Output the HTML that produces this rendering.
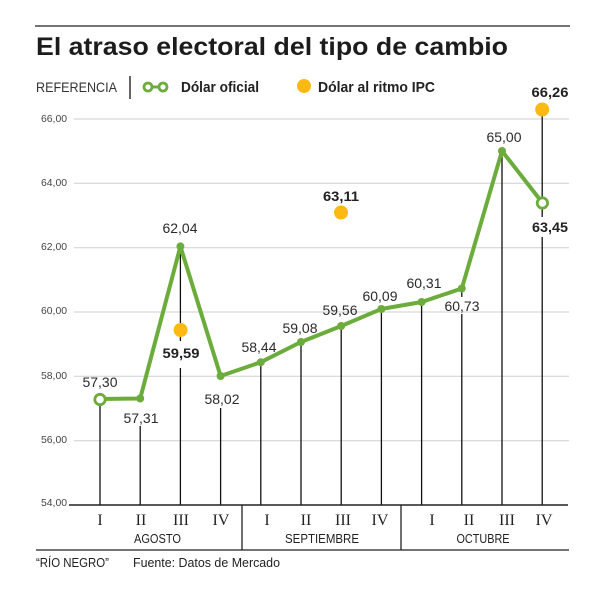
<!DOCTYPE html>
<html><head><meta charset="utf-8"><style>
html,body{margin:0;padding:0;background:#fff;}
svg{display:block;}
text{font-family:"Liberation Sans",sans-serif;}
text.serif{font-family:"Liberation Serif",serif;}
</style></head><body>
<svg width="608" height="593" viewBox="0 0 608 593" xmlns="http://www.w3.org/2000/svg">
<rect width="608" height="593" fill="#fff"/>
<line x1="35" y1="26" x2="570" y2="26" stroke="#222" stroke-width="1.3"/>
<text x="36" y="55" font-size="25" font-weight="bold" fill="#1c1c1c" textLength="472" lengthAdjust="spacingAndGlyphs">El atraso electoral del tipo de cambio</text>
<!-- legend -->
<text x="36" y="92" font-size="14" fill="#333" textLength="81" lengthAdjust="spacingAndGlyphs">REFERENCIA</text>
<line x1="130" y1="76" x2="130" y2="99" stroke="#222" stroke-width="1.4"/>
<line x1="150" y1="87" x2="161" y2="87" stroke="#6cac3c" stroke-width="3"/>
<circle cx="148" cy="87" r="4" fill="#fff" stroke="#6cac3c" stroke-width="2.8"/>
<circle cx="163" cy="87" r="4" fill="#fff" stroke="#6cac3c" stroke-width="2.8"/>
<text x="181" y="92" font-size="15" font-weight="bold" fill="#222" textLength="78" lengthAdjust="spacingAndGlyphs">Dólar oficial</text>
<circle cx="304" cy="86" r="7" fill="#fdb913"/>
<text x="318" y="92" font-size="15" font-weight="bold" fill="#222" textLength="117" lengthAdjust="spacingAndGlyphs">Dólar al ritmo IPC</text>
<!-- gridlines -->
<g stroke="#cfcfcf" stroke-width="1">
<line x1="74" y1="119" x2="569" y2="119"/>
<line x1="74" y1="183.3" x2="569" y2="183.3"/>
<line x1="74" y1="247.7" x2="569" y2="247.7"/>
<line x1="74" y1="312" x2="569" y2="312"/>
<line x1="74" y1="376.3" x2="569" y2="376.3"/>
<line x1="74" y1="440.7" x2="569" y2="440.7"/>
</g>
<g font-size="10.5" fill="#444" text-anchor="end">
<text x="67" y="122" textLength="26" lengthAdjust="spacingAndGlyphs">66,00</text>
<text x="67" y="186" textLength="26" lengthAdjust="spacingAndGlyphs">64,00</text>
<text x="67" y="250" textLength="26" lengthAdjust="spacingAndGlyphs">62,00</text>
<text x="67" y="314" textLength="26" lengthAdjust="spacingAndGlyphs">60,00</text>
<text x="67" y="379" textLength="26" lengthAdjust="spacingAndGlyphs">58,00</text>
<text x="67" y="443" textLength="26" lengthAdjust="spacingAndGlyphs">56,00</text>
<text x="67" y="506" textLength="26" lengthAdjust="spacingAndGlyphs">54,00</text>
</g>
<!-- drop lines -->
<g stroke="#111" stroke-width="1.3">
<line x1="100" y1="404" x2="100" y2="505"/>
<line x1="140.2" y1="426" x2="140.2" y2="505"/>
<line x1="180.4" y1="246" x2="180.4" y2="341"/>
<line x1="180.4" y1="368" x2="180.4" y2="505"/>
<line x1="220.6" y1="408" x2="220.6" y2="505"/>
<line x1="260.8" y1="362" x2="260.8" y2="505"/>
<line x1="301" y1="342" x2="301" y2="505"/>
<line x1="341.2" y1="326" x2="341.2" y2="505"/>
<line x1="381.4" y1="309" x2="381.4" y2="505"/>
<line x1="421.6" y1="302" x2="421.6" y2="505"/>
<line x1="461.8" y1="288" x2="461.8" y2="297"/>
<line x1="461.8" y1="314" x2="461.8" y2="505"/>
<line x1="502" y1="151" x2="502" y2="505"/>
<line x1="542.2" y1="109" x2="542.2" y2="217"/>
<line x1="542.2" y1="237" x2="542.2" y2="505"/>
</g>
<!-- axis -->
<line x1="69" y1="505" x2="568" y2="505" stroke="#222" stroke-width="1.5"/>
<line x1="242" y1="505" x2="242" y2="550" stroke="#222" stroke-width="1.3"/>
<line x1="401" y1="505" x2="401" y2="550" stroke="#222" stroke-width="1.3"/>
<line x1="36" y1="550" x2="569" y2="550" stroke="#222" stroke-width="1.3"/>
<!-- series -->
<polyline fill="none" stroke="#6cac3c" stroke-width="4" stroke-linejoin="round" stroke-linecap="round"
points="100,399 140.2,398.5 180.4,246.4 220.6,376 260.8,362.2 301,342 341.2,326 381.4,309 421.6,302 461.8,288.5 502,151 542.2,202.5"/>
<g fill="#6cac3c">
<circle cx="140.2" cy="398.5" r="4"/>
<circle cx="180.4" cy="246.4" r="4"/>
<circle cx="220.6" cy="376" r="4"/>
<circle cx="260.8" cy="362.2" r="4"/>
<circle cx="301" cy="342" r="4"/>
<circle cx="341.2" cy="326" r="4"/>
<circle cx="381.4" cy="309" r="4"/>
<circle cx="421.6" cy="302" r="4"/>
<circle cx="461.8" cy="288.5" r="4"/>
<circle cx="502" cy="151" r="4"/>
</g>
<circle cx="100" cy="399.5" r="5.2" fill="#fff" stroke="#6cac3c" stroke-width="2.8"/>
<circle cx="542.4" cy="203" r="5.2" fill="#fff" stroke="#6cac3c" stroke-width="2.8"/>
<g fill="#fdb913">
<circle cx="180.6" cy="330" r="7"/>
<circle cx="341" cy="212.5" r="7"/>
<circle cx="542.2" cy="109.5" r="7"/>
</g>
<!-- value labels -->
<g font-size="14" fill="#2a2a2a" text-anchor="middle">
<text x="100" y="387" textLength="35" lengthAdjust="spacingAndGlyphs">57,30</text>
<text x="141" y="423" textLength="35" lengthAdjust="spacingAndGlyphs">57,31</text>
<text x="180" y="233" textLength="35" lengthAdjust="spacingAndGlyphs">62,04</text>
<text x="222" y="404" textLength="35" lengthAdjust="spacingAndGlyphs">58,02</text>
<text x="259" y="352" textLength="35" lengthAdjust="spacingAndGlyphs">58,44</text>
<text x="300" y="333" textLength="35" lengthAdjust="spacingAndGlyphs">59,08</text>
<text x="340" y="315" textLength="35" lengthAdjust="spacingAndGlyphs">59,56</text>
<text x="380" y="301" textLength="35" lengthAdjust="spacingAndGlyphs">60,09</text>
<text x="424" y="288" textLength="35" lengthAdjust="spacingAndGlyphs">60,31</text>
<text x="462" y="311" textLength="35" lengthAdjust="spacingAndGlyphs">60,73</text>
<text x="504" y="142" textLength="35" lengthAdjust="spacingAndGlyphs">65,00</text>
</g>
<g font-size="14" font-weight="bold" fill="#222" text-anchor="middle">
<text x="181" y="358" textLength="37" lengthAdjust="spacingAndGlyphs">59,59</text>
<text x="341" y="201" textLength="36" lengthAdjust="spacingAndGlyphs">63,11</text>
<text x="550" y="232" textLength="36" lengthAdjust="spacingAndGlyphs">63,45</text>
<text x="550" y="97" textLength="37" lengthAdjust="spacingAndGlyphs">66,26</text>
</g>
<!-- roman numerals -->
<g font-size="16" fill="#222" text-anchor="middle">
<text class="serif" x="100" y="525">I</text>
<text class="serif" x="141" y="525">II</text>
<text class="serif" x="181" y="525">III</text>
<text class="serif" x="221" y="525">IV</text>
<text class="serif" x="267" y="525">I</text>
<text class="serif" x="306" y="525">II</text>
<text class="serif" x="343" y="525">III</text>
<text class="serif" x="380" y="525">IV</text>
<text class="serif" x="432" y="525">I</text>
<text class="serif" x="469" y="525">II</text>
<text class="serif" x="507" y="525">III</text>
<text class="serif" x="544" y="525">IV</text>
</g>
<g font-size="13" fill="#222" text-anchor="middle">
<text x="157.5" y="543" textLength="47" lengthAdjust="spacingAndGlyphs">AGOSTO</text>
<text x="322" y="543" textLength="74" lengthAdjust="spacingAndGlyphs">SEPTIEMBRE</text>
<text x="483" y="543" textLength="53" lengthAdjust="spacingAndGlyphs">OCTUBRE</text>
</g>
<text x="36" y="567" font-size="13" fill="#222" textLength="73" lengthAdjust="spacingAndGlyphs">“RÍO NEGRO”</text>
<text x="133" y="567" font-size="13" fill="#222" textLength="147" lengthAdjust="spacingAndGlyphs">Fuente: Datos de Mercado</text>
</svg>
</body></html>
